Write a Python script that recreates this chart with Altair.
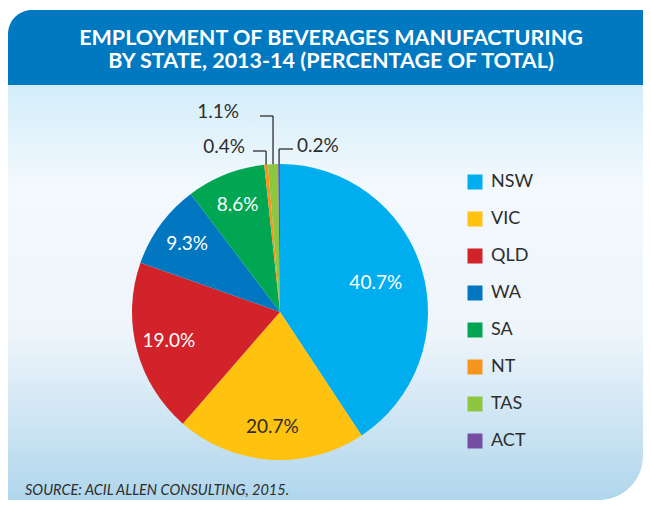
import altair as alt
import pandas as pd

# ---- data ----
states = ["NSW", "VIC", "QLD", "WA", "SA", "NT", "TAS", "ACT"]
shares = [40.7, 20.7, 19.0, 9.3, 8.6, 0.4, 1.1, 0.2]
colors = ["#00aeef", "#ffc20e", "#d2232a", "#0077c0", "#00a651", "#f7941d", "#8dc63f", "#744ea1"]
title_lines = ["EMPLOYMENT OF BEVERAGES MANUFACTURING", "BY STATE, 2013-14 (PERCENTAGE OF TOTAL)"]
source_text = "SOURCE: ACIL ALLEN CONSULTING, 2015."

df = pd.DataFrame({"state": states, "value": shares, "order": list(range(len(states)))})
one = pd.DataFrame({"k": [0]})

W, H = 635, 492
CX, CY, R = 272, 304, 148
FONT = "Lato"
DARK = "#2d2d2d"

# annotation layout for the tiny slices (chart coordinates)
small_layout = {
    "NT": dict(elbow=143, hx=245, tx=237, ty=145),
    "TAS": dict(elbow=108, hx=252, tx=231, ty=110),
    "ACT": dict(elbow=141, hx=285, tx=289, ty=144),
}


def lookup_expr(key):
    expr = "0"
    for st, d in small_layout.items():
        expr = f"datum.state == '{st}' ? {d[key]} : ({expr})"
    return expr


# ---- background panels ----
header = alt.Chart(one).mark_rect(fill="#0079c1", cornerRadiusTopLeft=24).encode(
    x=alt.value(0), x2=alt.value(W), y=alt.value(2), y2=alt.value(77)
)
body = alt.Chart(one).mark_rect(
    fill=alt.Gradient(
        gradient="linear",
        stops=[
            alt.GradientStop(offset=0, color="#d3edfa"),
            alt.GradientStop(offset=0.25, color="#f3f9fd"),
            alt.GradientStop(offset=0.6, color="#eef5fb"),
            alt.GradientStop(offset=1, color="#b0d6ec"),
        ],
        x1=0, x2=0, y1=0, y2=1,
    ),
    cornerRadiusBottomRight=44,
).encode(x=alt.value(0), x2=alt.value(W), y=alt.value(77), y2=alt.value(H))

title = alt.Chart(one).mark_text(
    font=FONT, fontWeight=700, fontSize=21.5, color="white", align="center",
    baseline="alphabetic", lineHeight=22.5,
).encode(x=alt.value(323), y=alt.value(37), text=alt.value(title_lines))

source = alt.Chart(one).mark_text(
    font=FONT, fontStyle="italic", fontSize=14.5, color=DARK, align="left", baseline="alphabetic"
).encode(x=alt.value(17), y=alt.value(487), text=alt.value(source_text))

# ---- pie ----
pie = alt.Chart(df).mark_arc(radius=R, strokeWidth=0).encode(
    theta=alt.Theta("value:Q", stack=True),
    order=alt.Order("order:Q"),
    color=alt.Color(
        "state:N",
        scale=alt.Scale(domain=states, range=colors),
        sort=states,
        title=None,
        legend=alt.Legend(
            orient="none", legendX=458, legendY=165, symbolType="square", symbolSize=225,
            symbolStrokeWidth=0, labelFont=FONT, labelFontSize=18, labelColor=DARK,
            labelOffset=7, rowPadding=19,
        ),
    ),
    x=alt.value(CX),
    y=alt.value(CY),
)

base = (
    alt.Chart(df)
    .transform_window(cum="sum(value)", sort=[alt.SortField("order")], frame=[None, 0])
    .transform_joinaggregate(total="sum(value)")
    .transform_calculate(
        mid="(datum.cum - datum.value / 2) / datum.total * 2 * PI",
        label="format(datum.value, '.1f') + '%'",
    )
)

inside = (
    base.transform_filter("datum.value >= 5")
    .transform_calculate(lr="datum.state == 'NSW' ? 100 : 115")
    .transform_calculate(
        lx=f"{CX} + datum.lr * sin(datum.mid)",
        ly=f"{CY} - datum.lr * cos(datum.mid)",
    )
    .mark_text(font=FONT, fontWeight=400, fontSize=19, align="center", baseline="middle")
    .encode(
        x=alt.X("lx:Q", scale=None, axis=None),
        y=alt.Y("ly:Q", scale=None, axis=None),
        text="label:N",
        color=alt.condition("datum.state == 'VIC'", alt.value(DARK), alt.value("white")),
    )
)

small = (
    base.transform_filter("datum.value < 5")
    .transform_calculate(
        ex=f"{CX} + {R} * sin(datum.mid)",
        ey=f"{CY} - {R} * cos(datum.mid)",
        elbow=lookup_expr("elbow"),
        hx=lookup_expr("hx"),
        tx=lookup_expr("tx"),
        ty=lookup_expr("ty"),
    )
)

vlines = small.mark_rule(color=DARK, strokeWidth=1.3).encode(
    x=alt.X("ex:Q", scale=None, axis=None),
    y=alt.Y("ey:Q", scale=None, axis=None),
    y2="elbow:Q",
)
hlines = small.mark_rule(color=DARK, strokeWidth=1.3).encode(
    x=alt.X("ex:Q", scale=None, axis=None),
    x2="hx:Q",
    y=alt.Y("elbow:Q", scale=None, axis=None),
)
left_labels = small.transform_filter("datum.state != 'ACT'").mark_text(
    font=FONT, fontWeight=400, fontSize=19, color=DARK, align="right", baseline="alphabetic"
).encode(
    x=alt.X("tx:Q", scale=None, axis=None),
    y=alt.Y("ty:Q", scale=None, axis=None),
    text="label:N",
)
right_labels = small.transform_filter("datum.state == 'ACT'").mark_text(
    font=FONT, fontWeight=400, fontSize=19, color=DARK, align="left", baseline="alphabetic"
).encode(
    x=alt.X("tx:Q", scale=None, axis=None),
    y=alt.Y("ty:Q", scale=None, axis=None),
    text="label:N",
)

chart = (
    alt.layer(header, body, title, source, pie, inside, vlines, hlines, left_labels, right_labels)
    .properties(width=W, height=H, padding=0, autosize="none", background="white")
    .configure_view(strokeWidth=0)
)

chart.save("out.html", embed_options={"renderer": "svg", "actions": False})
